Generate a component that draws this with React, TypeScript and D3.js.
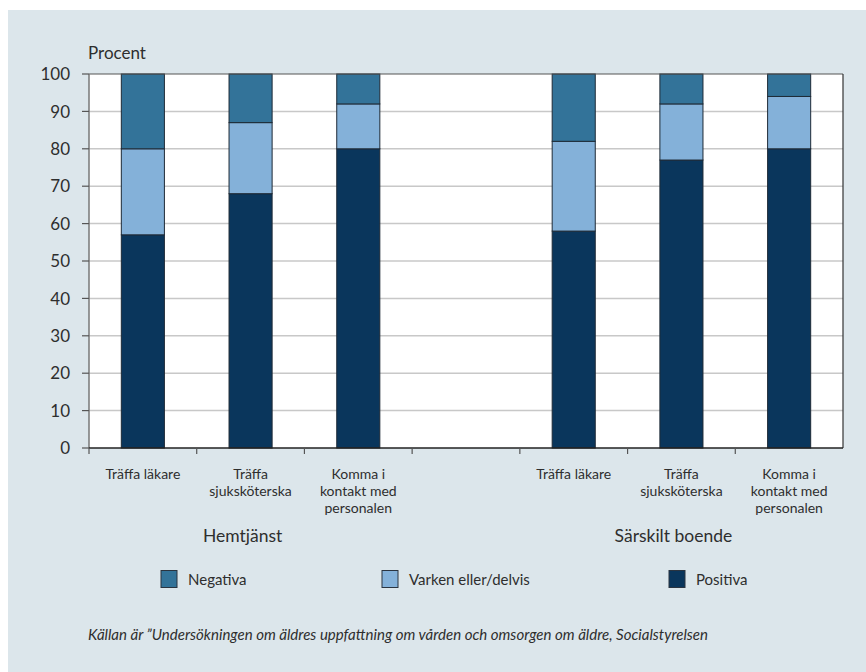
import React from "react";
import * as d3 from "d3";

// Survey categories: two groups of three questions with an empty slot between them
const categories = [
  "Träffa läkare|H",
  "Träffa sjuksköterska|H",
  "Komma i kontakt med personalen|H",
  "gap",
  "Träffa läkare|S",
  "Träffa sjuksköterska|S",
  "Komma i kontakt med personalen|S",
];
const categoryLines: string[][] = [
  ["Träffa läkare"],
  ["Träffa", "sjuksköterska"],
  ["Komma i", "kontakt med", "personalen"],
  [],
  ["Träffa läkare"],
  ["Träffa", "sjuksköterska"],
  ["Komma i", "kontakt med", "personalen"],
];
const groups = [
  { label: "Hemtjänst", from: 0, to: 2 },
  { label: "Särskilt boende", from: 4, to: 6 },
];

// Percentages per category (null = empty slot)
const positiva = [57, 68, 80, null, 58, 77, 80];
const varken = [23, 19, 12, null, 24, 15, 14];
const negativa = [20, 13, 8, null, 18, 8, 6];

const seriesKeys = ["positiva", "varken", "negativa"] as const;
const seriesLabels = { positiva: "Positiva", varken: "Varken eller/delvis", negativa: "Negativa" };
const seriesColors = { positiva: "#0a365c", varken: "#84b1d9", negativa: "#337399" };
const legendOrder = ["negativa", "varken", "positiva"] as const;

const yTicks = [0, 10, 20, 30, 40, 50, 60, 70, 80, 90, 100];

const W = 866;
const H = 672;
const FONT = "Lato, 'Open Sans', sans-serif";
const TEXT = "#2e2e2e";

export default function App() {
  const left = 89;
  const right = 843;
  const top = 74;
  const bottom = 448;

  const x = d3.scaleBand<string>().domain(categories).range([left, right]).paddingInner(0).paddingOuter(0);
  const y = d3.scaleLinear().domain([0, 100]).range([bottom, top]);
  const barW = x.bandwidth() * 0.4;

  const rows = categories.map((c, i) => ({ cat: c, positiva: positiva[i], varken: varken[i], negativa: negativa[i] }));
  const stacked = d3
    .stack<any>()
    .keys(seriesKeys as any)
    .value((d, k) => (d[k] == null ? 0 : d[k]))(rows);

  const legendX = [161, 382, 669];

  return (
    <svg width={W} height={H} style={{ position: "absolute", left: 0, top: 0 }} fontFamily={FONT}>
      <rect x={8} y={10} width={W - 8} height={H - 10} fill="#dce6eb" />
      <text x={88} y={59} fontSize={17} fill={TEXT}>Procent</text>

      {/* plot area */}
      <rect x={left} y={top} width={right - left} height={bottom - top} fill="#ffffff" />
      {yTicks.filter((t) => t > 0 && t < 100).map((t) => (
        <line key={t} x1={left} x2={right} y1={y(t)} y2={y(t)} stroke="#c8c8c8" strokeWidth={1.5} />
      ))}

      {/* stacked bars */}
      {stacked.map((s) =>
        s.map((d, i) => {
          if (rows[i].positiva == null) return null;
          const bx = (x(categories[i]) as number) + (x.bandwidth() - barW) / 2;
          return (
            <rect
              key={s.key + i}
              x={bx}
              y={y(d[1])}
              width={barW}
              height={y(d[0]) - y(d[1])}
              fill={(seriesColors as any)[s.key]}
              stroke="#1e2a36"
              strokeWidth={1}
            />
          );
        })
      )}

      {/* frame */}
      <line x1={left} x2={right} y1={top} y2={top} stroke="#555" strokeWidth={1.2} />
      <line x1={right} x2={right} y1={top} y2={bottom} stroke="#333" strokeWidth={1.2} />
      <line x1={left} x2={left} y1={top} y2={bottom} stroke="#777" strokeWidth={1.5} />
      <line x1={left} x2={right} y1={bottom} y2={bottom} stroke="#222" strokeWidth={1.5} />

      {/* y axis */}
      {yTicks.map((t) => (
        <g key={t}>
          <line x1={left - 7} x2={left} y1={y(t)} y2={y(t)} stroke="#555" strokeWidth={1.2} />
          <text x={70} y={y(t)} dy="0.36em" textAnchor="end" fontSize={17} fill={TEXT}>{t}</text>
        </g>
      ))}

      {/* x axis ticks and labels */}
      {categories.map((c, i) => (
        <line key={"t" + i} x1={x(c) as number} x2={x(c) as number} y1={bottom} y2={bottom + 6} stroke="#555" strokeWidth={1.2} />
      ))}
      {categories.map((c, i) => (
        <text key={"l" + i} textAnchor="middle" fontSize={14} fill={TEXT}>
          {categoryLines[i].map((ln, j) => (
            <tspan key={j} x={(x(c) as number) + x.bandwidth() / 2} y={479 + j * 17}>{ln}</tspan>
          ))}
        </text>
      ))}
      {groups.map((g) => {
        const cx = ((x(categories[g.from]) as number) + (x(categories[g.to]) as number) + x.bandwidth()) / 2 - 8;
        return (
          <text key={g.label} x={cx} y={542} textAnchor="middle" fontSize={17.5} fill={TEXT}>{g.label}</text>
        );
      })}

      {/* legend */}
      {legendOrder.map((k, i) => (
        <g key={k}>
          <rect x={legendX[i]} y={570.5} width={16} height={17} fill={seriesColors[k]} stroke="#2a3440" strokeWidth={1} />
          <text x={legendX[i] + 27} y={585} fontSize={15} fill={TEXT}>{seriesLabels[k]}</text>
        </g>
      ))}

      <text x={88} y={640} fontSize={14.5} fontStyle="italic" fill={TEXT} textLength={620} lengthAdjust="spacingAndGlyphs">
        Källan är ”Undersökningen om äldres uppfattning om vården och omsorgen om äldre, Socialstyrelsen
      </text>
    </svg>
  );
}
